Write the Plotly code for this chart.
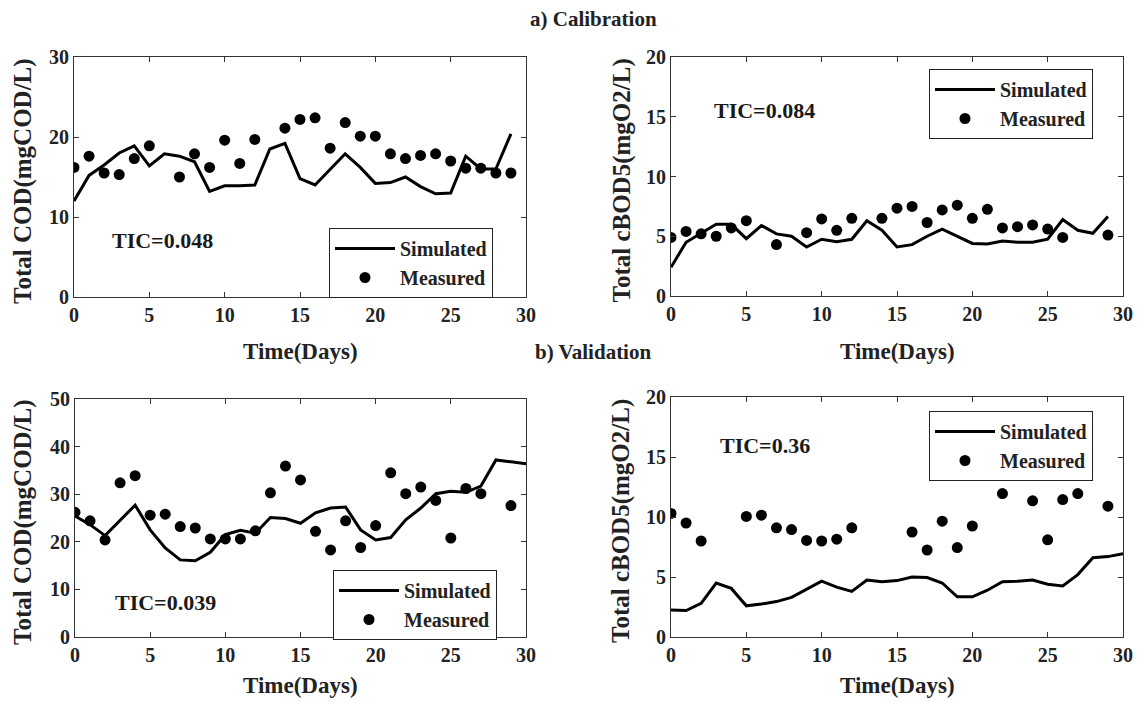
import plotly.graph_objects as go

# ---------------- data ----------------
days_sim_cal = list(range(0, 30))
days_sim_val = list(range(0, 31))

cod_cal_sim = [12.0, 15.2, 16.5, 18.0, 18.9, 16.4, 17.9, 17.6, 16.9, 13.2,
               13.9, 13.9, 14.0, 18.5, 19.2, 14.8, 14.0, 15.9, 17.9, 16.2,
               14.2, 14.3, 15.0, 13.8, 12.9, 13.0, 17.6, 16.0, 16.0, 20.4]
cod_cal_days = [0, 1, 2, 3, 4, 5, 7, 8, 9, 10, 11, 12, 14, 15, 16, 17, 18, 19,
                20, 21, 22, 23, 24, 25, 26, 27, 28, 29]
cod_cal_meas = [16.2, 17.6, 15.5, 15.3, 17.3, 18.9, 15.0, 17.9, 16.2, 19.6,
                16.7, 19.7, 21.1, 22.2, 22.4, 18.6, 21.8, 20.1, 20.1, 17.9,
                17.3, 17.7, 17.9, 17.0, 16.1, 16.1, 15.5, 15.5]

bod_cal_sim = [2.4, 4.5, 5.25, 6.0, 6.0, 4.8, 5.9, 5.2, 5.0, 4.1,
               4.75, 4.55, 4.75, 6.3, 5.5, 4.1, 4.3, 5.0, 5.6, 5.0,
               4.4, 4.35, 4.6, 4.5, 4.5, 4.75, 6.4, 5.5, 5.25, 6.65]
bod_cal_days = [0, 1, 2, 3, 4, 5, 7, 9, 10, 11, 12, 14, 15, 16, 17, 18, 19,
                20, 21, 22, 23, 24, 25, 26, 29]
bod_cal_meas = [4.9, 5.4, 5.2, 5.0, 5.7, 6.3, 4.3, 5.3, 6.45, 5.5, 6.5, 6.5,
                7.35, 7.5, 6.15, 7.2, 7.6, 6.5, 7.25, 5.7, 5.8, 5.95, 5.6,
                4.9, 5.1]

cod_val_sim = [25.4, 23.6, 21.3, 24.5, 27.7, 22.5, 18.7, 16.2, 16.0, 17.8,
               21.5, 22.4, 21.8, 25.1, 24.9, 23.9, 26.1, 27.1, 27.3, 22.5,
               20.4, 20.9, 24.6, 27.1, 30.1, 30.6, 30.4, 31.7, 37.2, 36.8, 36.4]
cod_val_days = [0, 1, 2, 3, 4, 5, 6, 7, 8, 9, 10, 11, 12, 13, 14, 15, 16, 17,
                18, 19, 20, 21, 22, 23, 24, 25, 26, 27, 29]
cod_val_meas = [26.2, 24.4, 20.4, 32.4, 33.9, 25.6, 25.8, 23.2, 22.9, 20.6,
                20.6, 20.6, 22.3, 30.3, 35.9, 33.0, 22.2, 18.3, 24.4, 18.8,
                23.4, 34.5, 30.1, 31.5, 28.7, 20.8, 31.2, 30.1, 27.6]

bod_val_sim = [2.25, 2.2, 2.8, 4.5, 4.05, 2.6, 2.75, 2.95, 3.3, 4.0,
               4.65, 4.15, 3.8, 4.75, 4.6, 4.7, 5.0, 4.95, 4.5, 3.35,
               3.35, 3.9, 4.6, 4.65, 4.75, 4.4, 4.25, 5.2, 6.6, 6.7, 6.95]
bod_val_days = [0, 1, 2, 5, 6, 7, 8, 9, 10, 11, 12, 16, 17, 18, 19, 20, 22,
                24, 25, 26, 27, 29]
bod_val_meas = [10.3, 9.5, 8.0, 10.05, 10.15, 9.1, 8.95, 8.05, 8.0, 8.15, 9.1,
                8.75, 7.25, 9.65, 7.45, 9.25, 11.95, 11.35, 8.1, 11.45, 11.95,
                10.9]

tic_labels = ["TIC=0.048", "TIC=0.084", "TIC=0.039", "TIC=0.36"]
y_titles = ["Total COD(mgCOD/L)", "Total cBOD5(mgO2/L)",
            "Total COD(mgCOD/L)", "Total cBOD5(mgO2/L)"]
y_ranges = [(0, 30), (0, 20), (0, 50), (0, 20)]
y_dticks = [10, 5, 10, 5]
x_ticks = [0, 5, 10, 15, 20, 25, 30]

# ---------------- layout helpers ----------------
OFF = 8                      # page body margin
W, H = 1144 - 2 * OFF, 709 - 2 * OFF
FONT = "Liberation Serif"
px_x = [(74, 526), (671, 1123), (75, 526), (671, 1123)]
px_y = [(57, 297), (57, 296), (399, 637), (397, 637)]


def fx(p):
    return (p - OFF) / W


def fy(p):
    return 1 - (p - OFF) / H


panels = [
    (days_sim_cal, cod_cal_sim, cod_cal_days, cod_cal_meas),
    (days_sim_cal, bod_cal_sim, bod_cal_days, bod_cal_meas),
    (days_sim_val, cod_val_sim, cod_val_days, cod_val_meas),
    (days_sim_val, bod_val_sim, bod_val_days, bod_val_meas),
]
legend_pos = [(493, 228), (1093, 69), (497, 570), (1093, 411)]
tic_pos = [(110, 240), (712, 110), (113, 602), (718, 445)]
ytitle_x = [23, 621, 23, 621]
xtitle_y = [351, 351, 685, 685]

fig = go.Figure()
layout = dict(width=W, height=H, margin=dict(l=0, r=0, t=0, b=0, pad=0, autoexpand=False),
              paper_bgcolor="white", plot_bgcolor="white",
              font=dict(family=FONT, color="black"), showlegend=True)
annotations = []

for i, (xs, ys, xm, ym) in enumerate(panels):
    n = "" if i == 0 else str(i + 1)
    lg = "legend" if i == 0 else f"legend{i+1}"
    fig.add_trace(go.Scatter(x=xs, y=ys, mode="lines", name="Simulated",
                             line=dict(color="black", width=3),
                             xaxis=f"x{n}", yaxis=f"y{n}", legend=lg))
    fig.add_trace(go.Scatter(x=xm, y=ym, mode="markers", name="Measured",
                             marker=dict(color="black", size=11, symbol="circle"),
                             xaxis=f"x{n}", yaxis=f"y{n}", legend=lg))
    x0, x1 = px_x[i]
    y0, y1 = px_y[i]
    common = dict(showline=True, linecolor="#333333", linewidth=1, mirror="ticks",
                  ticks="inside", ticklen=5, tickcolor="#333333", showgrid=False,
                  zeroline=False, automargin=False,
                  tickfont=dict(family=FONT, size=20, color="#222222", weight="bold"))
    layout[f"xaxis{n}"] = dict(domain=[fx(x0), fx(x1)], range=[0, 30],
                               tickvals=x_ticks, anchor=f"y{n}", **common)
    layout[f"yaxis{n}"] = dict(domain=[fy(y1), fy(y0)], range=list(y_ranges[i]),
                               dtick=y_dticks[i], anchor=f"x{n}", **common)
    annotations.append(dict(text="Time(Days)", x=fx((x0 + x1) / 2), y=fy(xtitle_y[i]),
                            xref="paper", yref="paper", showarrow=False,
                            xanchor="center", yanchor="middle",
                            font=dict(family=FONT, size=23, weight="bold", color="#222222")))
    annotations.append(dict(text=y_titles[i], x=fx(ytitle_x[i]), y=fy((y0 + y1) / 2 + 4),
                            xref="paper", yref="paper", showarrow=False, textangle=-90,
                            xanchor="center", yanchor="middle",
                            font=dict(family=FONT, size=25, weight="bold", color="#222222")))
    lx, ly = legend_pos[i]
    layout[lg] = dict(x=fx(lx), y=fy(ly), xanchor="right", yanchor="top",
                      bordercolor="#222222", borderwidth=1, bgcolor="white",
                      itemwidth=60, tracegroupgap=0,
                      font=dict(family=FONT, size=20, weight="bold", color="#222222"))
    tx, ty = tic_pos[i]
    annotations.append(dict(text=tic_labels[i], x=fx(tx), y=fy(ty),
                            xref="paper", yref="paper", xanchor="left", yanchor="middle",
                            showarrow=False,
                            font=dict(family=FONT, size=22, weight="bold", color="#1a1a1a")))

annotations.append(dict(text="a) Calibration", x=fx(593), y=fy(19), xref="paper",
                        yref="paper", showarrow=False, xanchor="center", yanchor="middle",
                        font=dict(family=FONT, size=21, weight="bold", color="#222222")))
annotations.append(dict(text="b) Validation", x=fx(593), y=fy(352), xref="paper",
                        yref="paper", showarrow=False, xanchor="center", yanchor="middle",
                        font=dict(family=FONT, size=21, weight="bold", color="#222222")))
layout["annotations"] = annotations
fig.update_layout(**layout)
fig.write_html("out.html")
